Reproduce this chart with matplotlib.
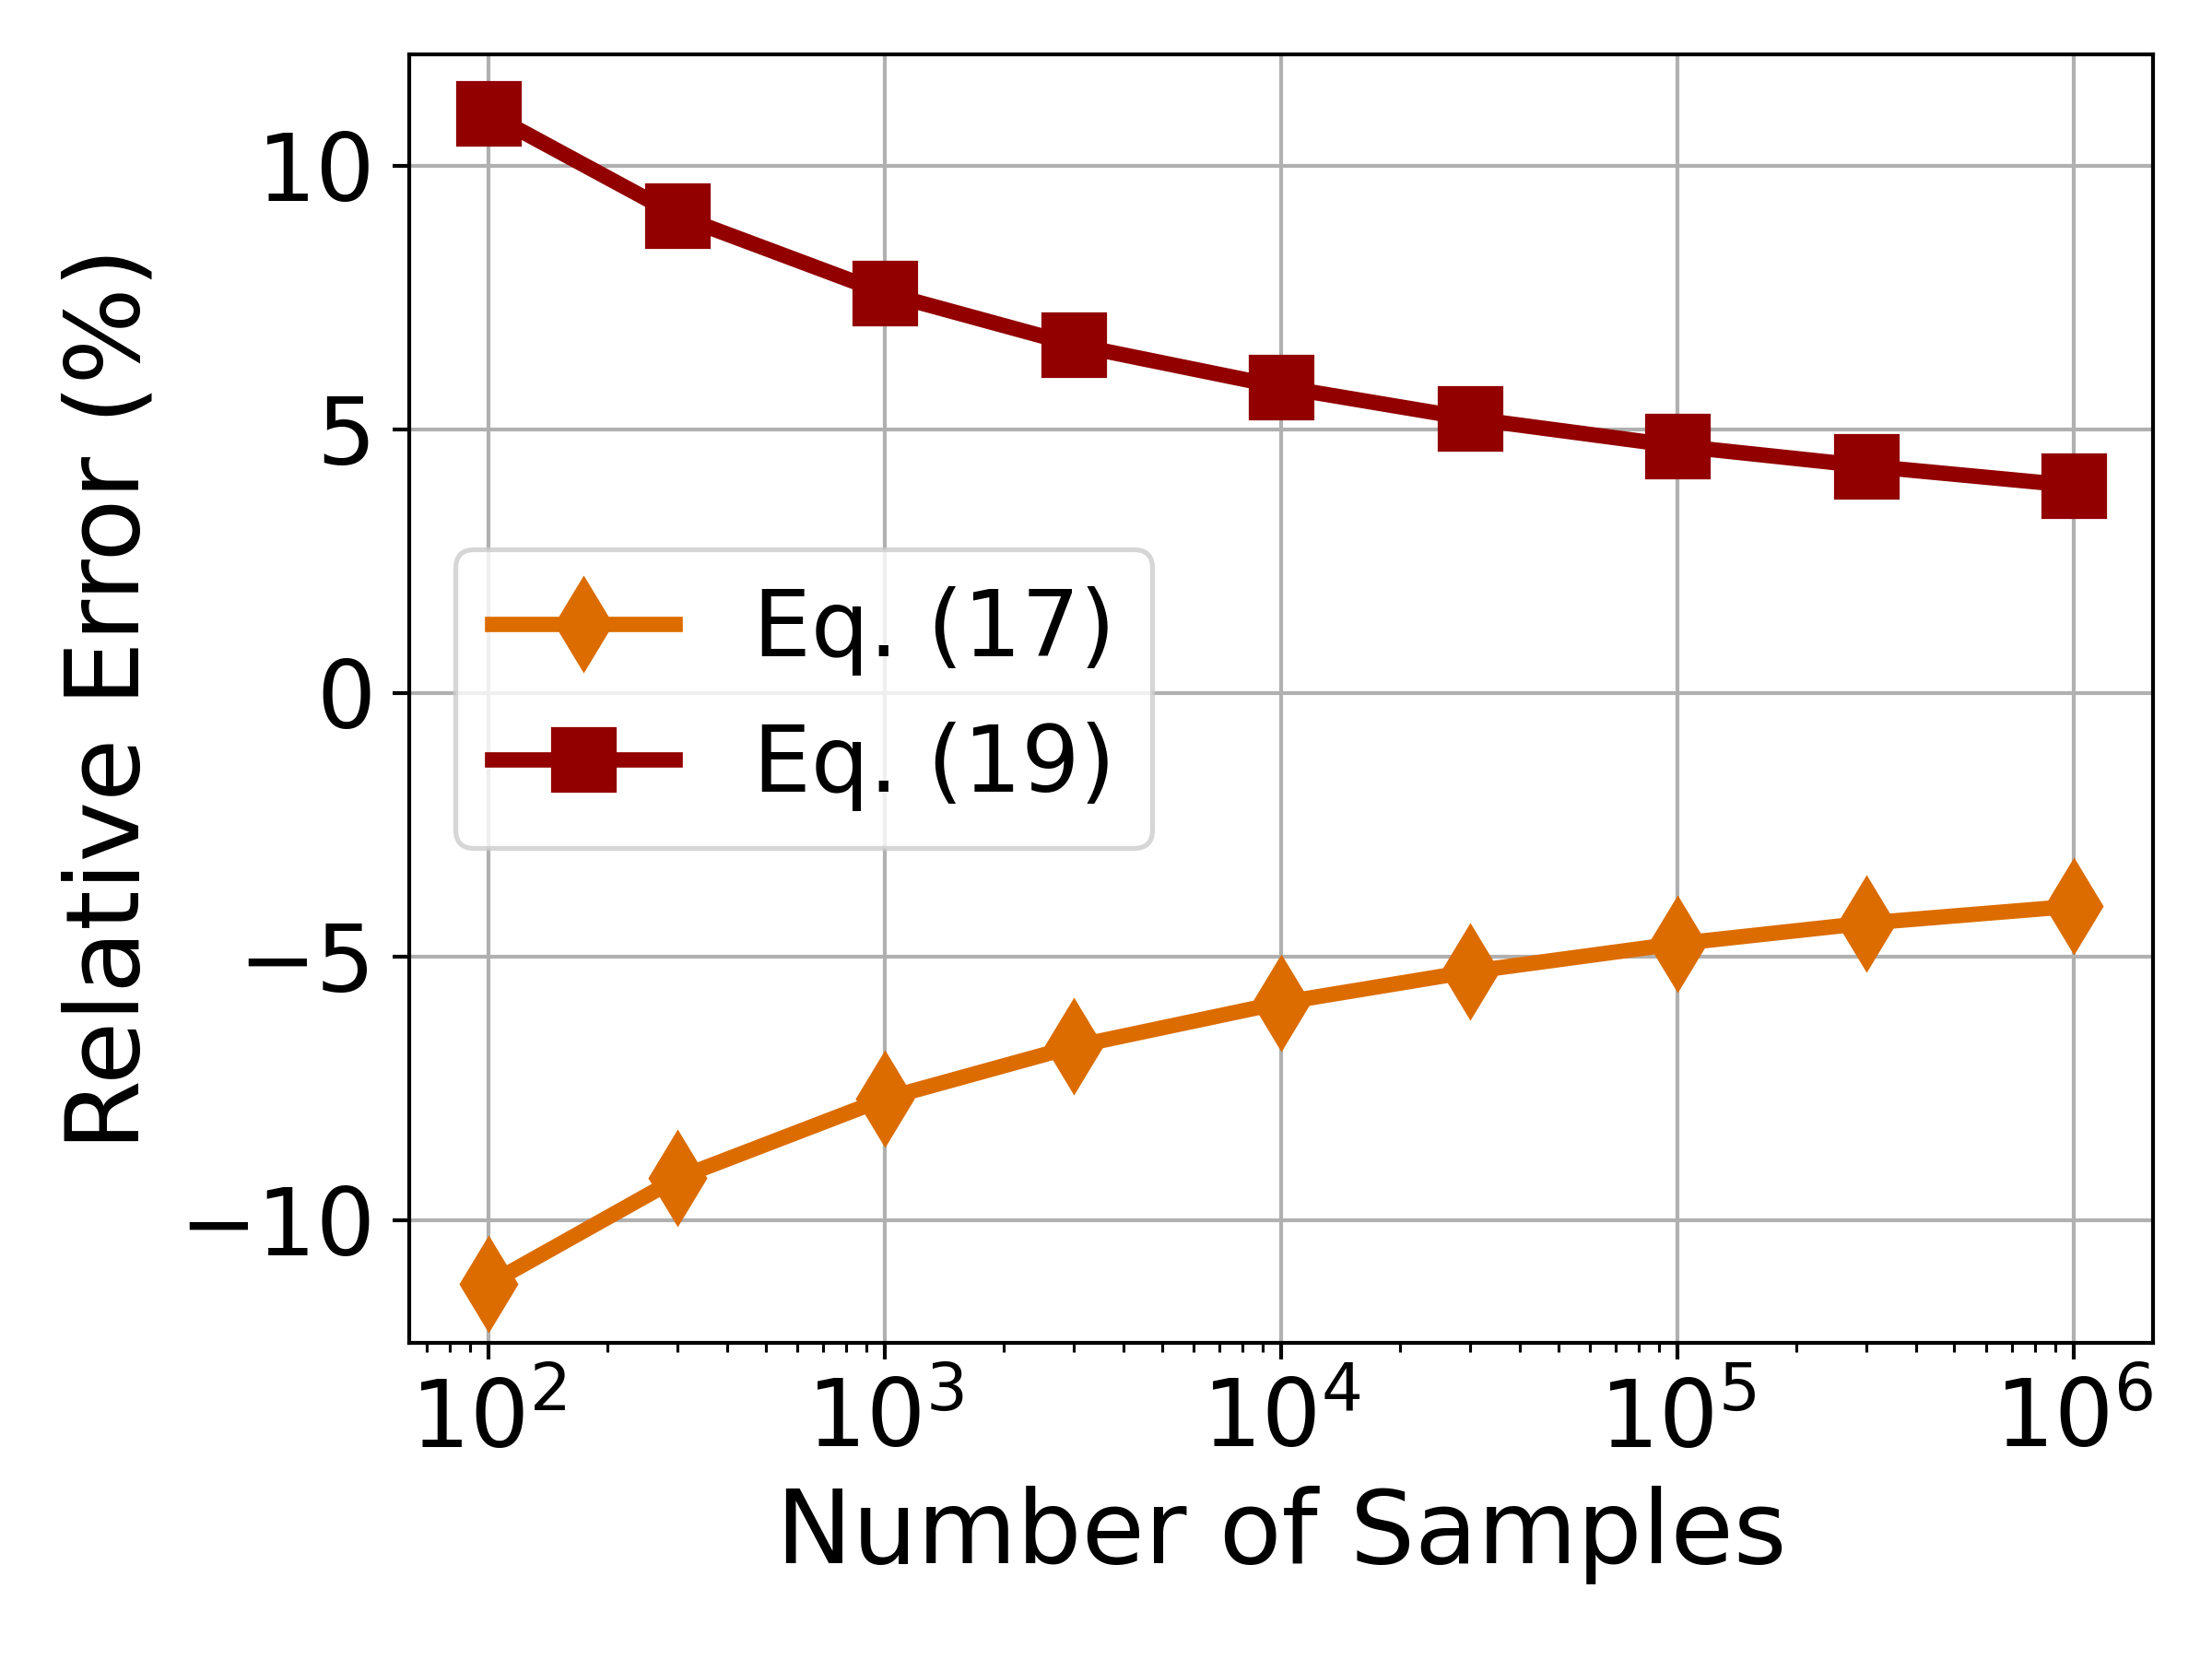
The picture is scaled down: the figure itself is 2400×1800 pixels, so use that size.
import matplotlib
matplotlib.use("Agg")
import matplotlib.pyplot as plt

# Sample counts and relative errors (%)
n_samples = [1e2, 3e2, 1e3, 3e3, 1e4, 3e4, 1e5, 3e5, 1e6]
err_eq17 = [-11.22, -9.21, -7.70, -6.71, -5.88, -5.29, -4.76, -4.37, -4.05]
err_eq19 = [10.99, 9.05, 7.58, 6.60, 5.80, 5.20, 4.68, 4.30, 3.93]
labels = ["Eq. (17)", "Eq. (19)"]

fig, ax = plt.subplots(figsize=(6.4, 4.8), dpi=375)
fig.subplots_adjust(left=0.185, right=0.9733, bottom=0.1906, top=0.967)

ax.plot(n_samples, err_eq17, color="#DC6C00", marker="d", lw=3.2, ms=13, label=labels[0])
ax.plot(n_samples, err_eq19, color="#920000", marker="s", lw=3.2, ms=12.7, label=labels[1])

ax.set_xscale("log")
ax.set_yticks([-10, -5, 0, 5, 10])
ax.grid(True, which="major")
ax.tick_params(axis="both", labelsize=19.4)
ax.set_xlabel("Number of Samples", fontsize=21.3)
ax.set_ylabel("Relative Error (%)", fontsize=21.3)
ax.legend(loc="center left", fontsize=19.1, handletextpad=0.85)

fig.savefig("out.png", dpi=375)
